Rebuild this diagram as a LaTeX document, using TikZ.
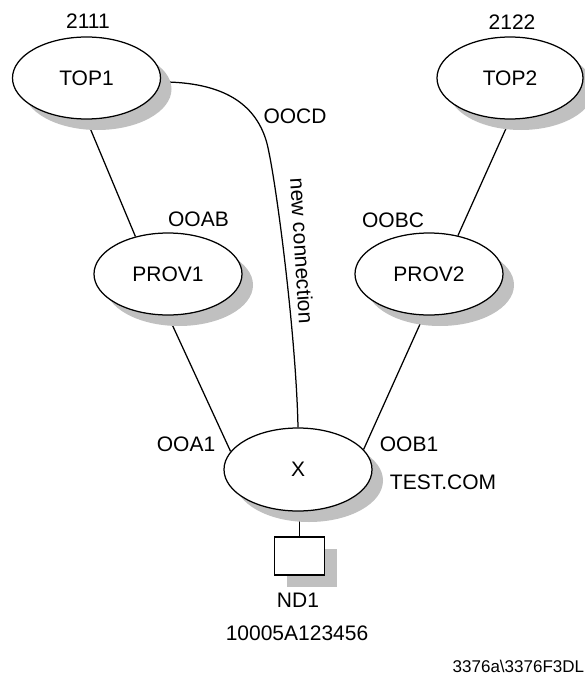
\documentclass[tikz,border=0pt]{standalone}
\usepackage{fontspec}
\setmainfont{Liberation Sans}
\usetikzlibrary{shapes.geometric,shadows,backgrounds}
\definecolor{shadowgray}{RGB}{192,192,192}
\begin{document}
\begin{tikzpicture}[x=1pt,y=-1pt,
  every node/.style={font=\fontsize{21}{25}\selectfont},
  link/.style={line width=1.25pt},
  site/.style={ellipse,draw,line width=1.25pt,fill=white,minimum width=148pt,minimum height=82pt,inner sep=0pt,
    drop shadow={shadow xshift=11pt,shadow yshift=-11pt,fill=shadowgray,opacity=1}},
  devbox/.style={rectangle,draw,line width=1.25pt,fill=white,minimum width=50pt,minimum height=38pt,inner sep=0pt,
    drop shadow={shadow xshift=12pt,shadow yshift=-12pt,fill=shadowgray,opacity=1}},
  small/.style={font=\fontsize{17}{20}\selectfont}
]
\useasboundingbox (0,0) rectangle (584,674);

% nodes
\node[site] (top1) at (86.5,78) {TOP1};
\node[site,minimum width=146pt] (top2) at (510,78) {TOP2};
\node[site] (prov1) at (168,274) {PROV1};
\node[site] (prov2) at (429,274) {PROV2};
\node[site,minimum height=83pt] (x) at (298,469.5) {X};
\node[devbox] (nd1) at (299.5,556) {};

% connectors
\begin{scope}[on background layer]
\draw[link] (top1.south) -- (prov1.131);
\draw[link] (top2.south) -- (prov2.53);
\draw[link] (prov1.south) -- (x.165);
\draw[link] (prov2.-97) -- (x.17);
\draw[link] (top1.-3) .. controls (225,82) and (255,105) .. (266,140)
                       .. controls (274,165) and (296,330) .. (x.north);
\draw[link] (nd1.north) -- (nd1.north |- x.south);
\end{scope}

% labels
\node (l2111) at (88,21) {2111};
\node (l2122) at (512,22) {2122};
\node (loocd) at (295,116) {OOCD};
\node (looab) at (198.5,219) {OOAB};
\node (loobc) at (393,220) {OOBC};
\node (looa1) at (186,444) {OOA1};
\node (loob1) at (409,444) {OOB1};
\node (ltest) at (443,482) {TEST.COM};
\node (lnd1) at (298,600) {ND1};
\node (lmac) at (297,633) {10005A123456};
\node[rotate=-86.5] (lnew) at (302,251) {new connection};
\node[small,anchor=base west,inner sep=0pt] (lfig) at (452.5,672) {3376a\textbackslash 3376F3DL};
\end{tikzpicture}
\end{document}
